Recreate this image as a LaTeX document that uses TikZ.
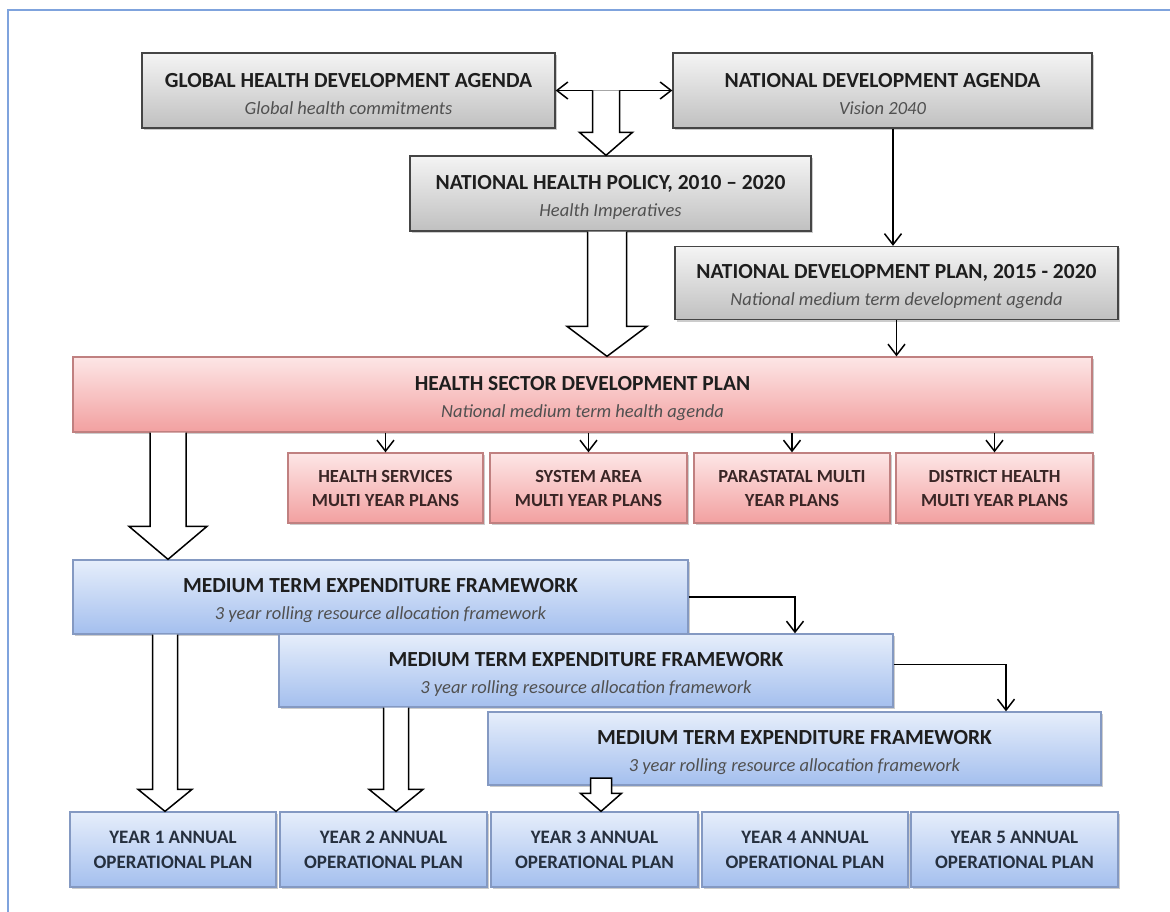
\documentclass[tikz,border=0pt]{standalone}
\usepackage{fontspec}
\setmainfont{Carlito}
\usetikzlibrary{arrows.meta,shadows,calc}

\definecolor{frameblue}{HTML}{7FA3DD}
\definecolor{greytop}{HTML}{F4F4F4}
\definecolor{greybot}{HTML}{C0C0C0}
\definecolor{greyline}{HTML}{454545}
\definecolor{pinktop}{HTML}{FDE6E6}
\definecolor{pinkbot}{HTML}{F2A0A0}
\definecolor{pinkline}{HTML}{C08080}
\definecolor{bluetop}{HTML}{E6EEFB}
\definecolor{bluebot}{HTML}{A4BFEE}
\definecolor{blueline}{HTML}{8499C2}
\definecolor{titleink}{HTML}{1E1E1E}
\definecolor{subink}{HTML}{505050}
\definecolor{pinkink}{HTML}{3A2626}
\definecolor{blueink}{HTML}{26303F}

% title line (with a strut that lowers the two-line block a little) and subtitle line
\newcommand\ttl[1]{{\fontsize{21.5}{27}\selectfont\bfseries\color{titleink}\rule{0pt}{22pt}#1}}
\newcommand\subt[1]{{\fontsize{18.5}{27}\selectfont\itshape\color{subink}#1}}

% hollow block arrow: [path end], start, tip, shaft half width, head half width, head length
\newcommand\blockarrow[6][]{%
  \draw[hollow] let \p1=#2, \p2=#3 in
    (\x2-#4,\y1) -- (\x2-#4,\y2+#6) -- (\x2-#5,\y2+#6) -- (\x2,\y2)
    -- (\x2+#5,\y2+#6) -- (\x2+#4,\y2+#6) -- (\x2+#4,\y1) #1;}

\tikzset{
  box/.style={rectangle, inner sep=0pt, align=center, line width=1.3pt,
    font=\fontsize{18.5}{27}\selectfont,
    drop shadow={shadow xshift=1.5pt, shadow yshift=-2pt, opacity=0.4}},
  greybox/.style={box, draw=greyline, top color=greytop, bottom color=greybot},
  pinkbox/.style={box, draw=pinkline, top color=pinktop, bottom color=pinkbot},
  bluebox/.style={box, draw=blueline, top color=bluetop, bottom color=bluebot},
  planbox/.style={pinkbox, minimum height=70pt, text=pinkink,
    font=\fontsize{18.5}{24}\selectfont\bfseries},
  yearbox/.style={bluebox, minimum height=75pt, text=blueink,
    font=\fontsize{19}{25}\selectfont\bfseries},
  barb/.tip={Straight Barb[length=11pt,width=17pt,line width=1.5pt]},
  link/.style={line width=1.5pt, -barb},
  dlink/.style={line width=1.5pt, barb-barb},
  hollow/.style={line width=1.5pt, draw=black, fill=white, line join=miter},
  frame/.style={line width=1.5pt, draw=frameblue}
}

\begin{document}
\begin{tikzpicture}[x=1pt,y=-1pt]
\useasboundingbox (0,0) rectangle (1170,912);
\fill[white] (0,0) rectangle (1170,912);
\draw[frame] (8,912) -- (8,10) -- (1170,10);

% agendas and policy level
\node[greybox, minimum width=413pt, minimum height=75pt] (ghda) at (348.5,90.5)
  {\ttl{GLOBAL HEALTH DEVELOPMENT AGENDA}\\\subt{Global health commitments}};
\node[greybox, minimum width=419pt, minimum height=75pt] (nda) at (882.5,90.5)
  {\ttl{NATIONAL DEVELOPMENT AGENDA}\\\subt{Vision 2040}};
\node[greybox, minimum width=401pt, minimum height=75pt] (nhp) at (610.5,193.5)
  {\ttl{NATIONAL HEALTH POLICY, 2010 -- 2020}\\\subt{Health Imperatives}};
\node[greybox, minimum width=443pt, minimum height=73pt] (ndp) at (896.5,283)
  {\ttl{NATIONAL DEVELOPMENT PLAN, 2015 - 2020}\\\subt{National medium term development agenda}};

% sector plan
\node[pinkbox, minimum width=1019pt, minimum height=75pt] (hsdp) at (582.5,394.5)
  {\ttl{HEALTH SECTOR DEVELOPMENT PLAN}\\\subt{National medium term health agenda}};
\node[planbox, minimum width=195pt] (hs) at (385.5,488) {HEALTH SERVICES\\MULTI YEAR PLANS};
\node[planbox, minimum width=197pt] (sa) at (588.5,488) {SYSTEM AREA\\MULTI YEAR PLANS};
\node[planbox, minimum width=196pt] (ps) at (792,488) {PARASTATAL MULTI\\YEAR PLANS};
\node[planbox, minimum width=197pt] (dh) at (994.5,488) {DISTRICT HEALTH\\MULTI YEAR PLANS};

% expenditure frameworks
\node[bluebox, minimum width=615pt, minimum height=74pt] (mtef1) at (380.5,597)
  {\ttl{MEDIUM TERM EXPENDITURE FRAMEWORK}\\\subt{3 year rolling resource allocation framework}};
\node[bluebox, minimum width=614pt, minimum height=73pt] (mtef2) at (586,670.5)
  {\ttl{MEDIUM TERM EXPENDITURE FRAMEWORK}\\\subt{3 year rolling resource allocation framework}};
\node[bluebox, minimum width=613pt, minimum height=73pt] (mtef3) at (794.5,748.5)
  {\ttl{MEDIUM TERM EXPENDITURE FRAMEWORK}\\\subt{3 year rolling resource allocation framework}};

% annual operational plans
\node[yearbox, minimum width=206pt] (y1) at (173,849.5) {YEAR 1 ANNUAL\\OPERATIONAL PLAN};
\node[yearbox, minimum width=207pt] (y2) at (383.5,849.5) {YEAR 2 ANNUAL\\OPERATIONAL PLAN};
\node[yearbox, minimum width=207pt] (y3) at (594.5,849.5) {YEAR 3 ANNUAL\\OPERATIONAL PLAN};
\node[yearbox, minimum width=206pt] (y4) at (805,849.5) {YEAR 4 ANNUAL\\OPERATIONAL PLAN};
\node[yearbox, minimum width=207pt] (y5) at (1014.5,849.5) {YEAR 5 ANNUAL\\OPERATIONAL PLAN};

% thin connectors
\draw[dlink] (ghda.east) -- (nda.west);
\draw[link] (893,0 |- nda.south) -- (893,0 |- ndp.north);
\draw[link] (ndp.south) -- (ndp.south |- hsdp.north);
\foreach \p in {hs,sa,ps,dh}
  \draw[link] (\p.north |- hsdp.south) -- (\p.north);
\coordinate (turn1) at (795,0 |- mtef2.north);
\coordinate (turn2) at (1006,0 |- mtef3.north);
\draw[link] (mtef1.east) -| (turn1);
\draw[link] ([yshift=6pt]mtef2.east) -| (turn2);

% hollow block arrows
\coordinate (hub) at (606,0 |- ghda.east);
\blockarrow{(hub)}{(606,0 |- nhp.north)}{13.5pt}{26.5pt}{23pt}
\blockarrow{(607,0 |- nhp.south)}{(607,0 |- hsdp.north)}{19.5pt}{40pt}{30pt}
\blockarrow{(168,0 |- hsdp.south)}{(168,0 |- mtef1.north)}{18pt}{39pt}{33pt}
\blockarrow{(165,0 |- mtef1.south)}{(165,0 |- y1.north)}{12.5pt}{27pt}{22pt}
\blockarrow{(396,0 |- mtef2.south)}{(396,0 |- y2.north)}{12.5pt}{27pt}{22pt}
\blockarrow[-- cycle]{(601,778)}{(601,0 |- y3.north)}{10.5pt}{20.5pt}{18pt}
\end{tikzpicture}
\end{document}
